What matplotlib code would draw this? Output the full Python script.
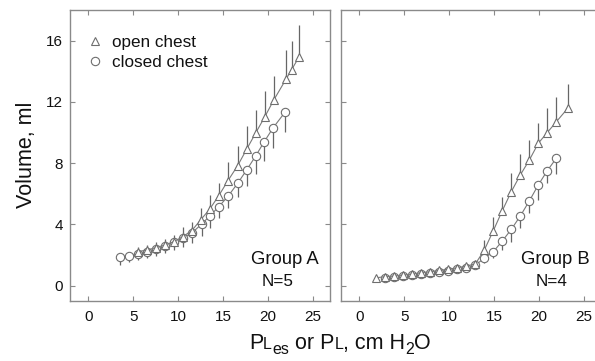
import matplotlib
matplotlib.use("Agg")
import matplotlib.pyplot as plt
from matplotlib.lines import Line2D

plt.rcParams['font.family'] = ['Liberation Sans', 'DejaVu Sans']

# ---------------- data ----------------
A_open_x = [5.5, 6.5, 7.5, 8.5, 9.5, 10.5, 11.5, 12.5, 13.5, 14.5, 15.5, 16.6, 17.6, 18.6, 19.6, 20.6, 22.0, 22.6, 23.4]
A_open_y = [2.22, 2.33, 2.48, 2.65, 2.87, 3.2, 3.59, 4.3, 5.0, 5.87, 6.83, 7.83, 8.9, 9.96, 11.0, 12.1, 13.5, 14.1, 14.9]
A_open_err = [0.3, 0.3, 0.35, 0.4, 0.45, 0.65, 0.6, 0.75, 0.9, 0.85, 1.25, 1.3, 1.5, 1.5, 1.7, 1.6, 1.9, 1.9, 2.1]

A_closed_x = [3.5, 4.5, 5.5, 6.5, 7.5, 8.5, 9.5, 10.5, 11.55, 12.6, 13.5, 14.5, 15.55, 16.6, 17.6, 18.6, 19.55, 20.55, 21.85]
A_closed_y = [1.85, 1.94, 2.07, 2.22, 2.41, 2.61, 2.85, 3.1, 3.46, 4.02, 4.55, 5.15, 5.85, 6.68, 7.55, 8.46, 9.39, 10.31, 11.31]
A_closed_err = [0.5, 0.4, 0.4, 0.4, 0.45, 0.5, 0.55, 0.6, 0.7, 0.75, 0.8, 0.75, 0.8, 0.88, 1.05, 1.17, 1.24, 1.3, 1.3]

B_open_x = [1.9, 2.9, 3.9, 4.9, 5.9, 6.9, 7.9, 8.9, 9.9, 10.9, 11.9, 12.9, 13.9, 14.9, 15.9, 16.9, 17.9, 18.9, 19.9, 20.9, 21.9, 23.2]
B_open_y = [0.52, 0.59, 0.63, 0.70, 0.76, 0.85, 0.91, 1.0, 1.08, 1.17, 1.28, 1.42, 2.33, 3.59, 4.9, 6.14, 7.23, 8.2, 9.3, 10.0, 10.7, 11.6]
B_open_err = [0.05, 0.05, 0.05, 0.06, 0.06, 0.07, 0.08, 0.08, 0.09, 0.1, 0.1, 0.12, 0.65, 0.9, 0.9, 1.2, 1.35, 1.3, 1.35, 1.6, 1.65, 1.6]

B_closed_x = [2.9, 3.9, 4.9, 5.9, 6.9, 7.9, 8.9, 9.9, 10.9, 11.9, 12.9, 13.9, 14.9, 15.9, 16.9, 17.9, 18.9, 19.9, 20.9, 21.9]
B_closed_y = [0.5, 0.56, 0.62, 0.68, 0.75, 0.82, 0.9, 0.98, 1.07, 1.17, 1.35, 1.79, 2.22, 2.92, 3.68, 4.55, 5.53, 6.58, 7.51, 8.32]
B_closed_err = [0.04, 0.04, 0.04, 0.05, 0.05, 0.05, 0.06, 0.06, 0.07, 0.08, 0.1, 0.3, 0.43, 0.6, 0.8, 0.8, 0.8, 1.0, 0.82, 1.0]

x_ticks = [0, 5, 10, 15, 20, 25]
y_ticks = [0, 4, 8, 12, 16]
legend_labels = ["open chest", "closed chest"]
group_labels = [("Group A", "N=5"), ("Group B", "N=4")]

# ---------------- styling ----------------
FRAME = '#8a8a8a'
LINE = '#7a7a7a'
MEDGE = '#6e6e6e'
ERR = '#666666'
TXT = '#111111'

fig = plt.figure(figsize=(5.95, 3.61), dpi=100)
axA = fig.add_axes([0.1176, 0.167, 0.437, 0.8053])
axB = fig.add_axes([0.5731, 0.167, 0.437, 0.8053])


def draw_series(ax, x, y, err, marker, up):
    yerr = [[0] * len(err), err] if up else [err, [0] * len(err)]
    ax.errorbar(x, y, yerr=yerr, fmt='none', ecolor=ERR, elinewidth=0.9, capsize=0, zorder=2)
    ax.plot(x, y, '-', color=LINE, lw=0.8, marker=marker, ms=6.3 if marker == '^' else 6.0,
            mfc='white', mec=MEDGE, mew=0.8, zorder=3)


for ax in (axA, axB):
    ax.set_xlim(-2.03, 26.87)
    ax.set_ylim(-0.98, 18.0)
    ax.set_xticks(x_ticks)
    ax.set_yticks(y_ticks)
    for s in ax.spines.values():
        s.set_color(FRAME)
        s.set_linewidth(1.0)
    ax.tick_params(direction='in', length=3.5, width=0.8, color=FRAME, top=True, right=True,
                   labelsize=11, labelcolor=TXT)
    ax.tick_params(axis='x', pad=7)
    ax.tick_params(axis='y', pad=5)

axB.tick_params(axis='y', labelleft=False)

draw_series(axA, A_closed_x, A_closed_y, A_closed_err, 'o', False)
draw_series(axA, A_open_x, A_open_y, A_open_err, '^', True)
draw_series(axB, B_closed_x, B_closed_y, B_closed_err, 'o', False)
draw_series(axB, B_open_x, B_open_y, B_open_err, '^', True)

handles = [Line2D([], [], ls='none', marker='^', ms=6.3, mfc='white', mec=MEDGE, mew=0.8),
           Line2D([], [], ls='none', marker='o', ms=6.0, mfc='white', mec=MEDGE, mew=0.8)]
axA.legend(handles, legend_labels, loc='upper left', bbox_to_anchor=(0.062, 0.915),
           frameon=False, fontsize=12.3, handlelength=1.0, handletextpad=0.5,
           labelspacing=0.32, borderpad=0, borderaxespad=0, labelcolor=TXT)

axA.text(21.9, 1.68, group_labels[0][0], ha='center', va='center', fontsize=13.3, color=TXT)
axA.text(21.0, 0.26, group_labels[0][1], ha='center', va='center', fontsize=12.3, color=TXT)
axB.text(21.8, 1.68, group_labels[1][0], ha='center', va='center', fontsize=13.3, color=TXT)
axB.text(21.4, 0.3, group_labels[1][1], ha='center', va='center', fontsize=12.3, color=TXT)

fig.text(0.0437, 0.5706, "Volume, ml", rotation=90, ha='center', va='center', fontsize=15.5, color=TXT)

# x label assembled from pieces: P + small-cap L + subscript es ...
big, small = 15.5, 11.5
pieces = [("P", big, 0), ("L", small, 0), ("es", small, -3.5), (" or P", big, 0), ("L", small, 0),
          (", cm H", big, 0), ("2", small, -3.5), ("O", big, 0)]
x0, ybase = 249.0 / 595, 1 - 349.0 / 361
prev = None
for txt, size, dy in pieces:
    if prev is None:
        t = fig.text(x0, ybase, txt, fontsize=size, ha='left', va='baseline', color=TXT)
    else:
        t = fig.add_artist(matplotlib.text.Annotation(
            txt, xy=(1, ybase), xycoords=(prev, 'figure fraction'),
            xytext=(0, dy), textcoords='offset points',
            fontsize=size, ha='left', va='baseline', color=TXT, annotation_clip=False))
    prev = t

fig.savefig('out.png', dpi=100)
